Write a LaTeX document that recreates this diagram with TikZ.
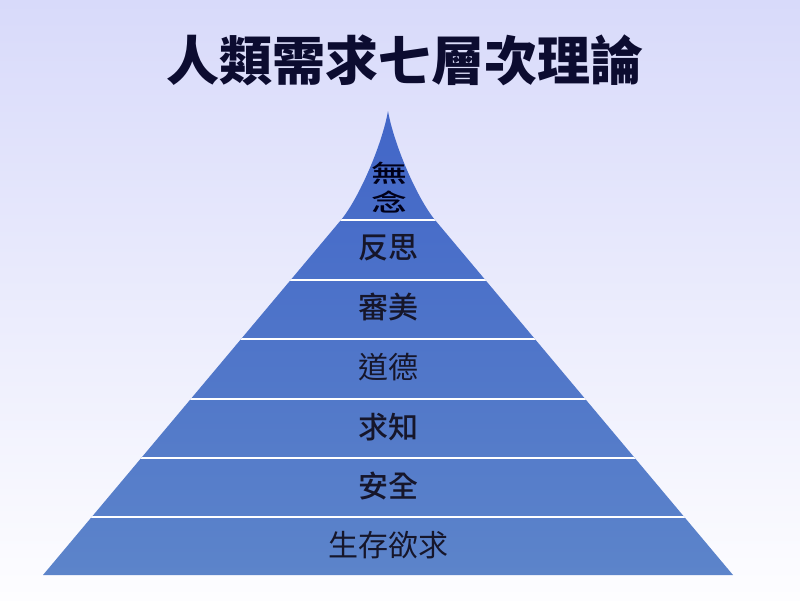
\documentclass[tikz,border=0pt]{standalone}
\usepackage{fontspec}
\usepackage{graphicx}
\newfontfamily\cjk{Noto Sans CJK TC}
\newfontfamily\cjkm{Noto Sans CJK TC Medium}
\definecolor{bgtop}{RGB}{216,218,250}
\definecolor{bgbot}{RGB}{253,253,255}
\definecolor{pyrtop}{RGB}{66,102,200}
\definecolor{pyrbot}{RGB}{92,132,202}
\definecolor{titlec}{RGB}{12,12,48}
\definecolor{labc}{RGB}{22,22,42}
\newcommand{\peakglyph}[1]{\scalebox{1.5}[1.0]{#1}}
\tikzset{
  tierlabel/.style={text=labc, font=\cjk\fontsize{30}{30}\selectfont, inner sep=0pt, anchor=center},
  tierbold/.style={tierlabel, font=\cjkm\fontsize{30}{30}\selectfont},
  peaklabel/.style={text=black!90!blue, font=\cjkm\fontsize{24}{24}\selectfont, inner sep=0pt},
  sepline/.style={white, line width=2.4pt}
}
\begin{document}
\begin{tikzpicture}[x=1pt,y=-1pt]
\useasboundingbox (0,0) rectangle (800,600);
\shade[top color=bgtop, bottom color=bgbot] (0,0) rectangle (800,600);
% pyramid
\def\pyr{(43,575) -- (341,220) .. controls (359,198) and (382,145) .. (388,111) .. controls (394,145) and (417,198) .. (435,220) -- (733,575) -- cycle}
\shade[top color=pyrtop, bottom color=pyrbot] \pyr;
\begin{scope}
\clip \pyr;
\foreach \yy in {220,280,339,399,458,517}
  \draw[sepline] (0,\yy) -- (800,\yy);
\end{scope}
% title
\node[text=titlec, font=\cjk\bfseries\fontsize{53}{53}\selectfont, inner sep=0pt] (title) at (405,60) {人類需求七層次理論};
% labels
\node[peaklabel] (wu) at (389,173) {\peakglyph{無}};
\node[peaklabel] (nian) at (389,202) {\peakglyph{念}};
\node[tierbold] (fansi) at (388,248) {反思};
\node[tierbold] (shenmei) at (388,307) {審美};
\node[tierlabel] (daode) at (388,367) {道德};
\node[tierbold] (qiuzhi) at (388,427) {求知};
\node[tierbold] (anquan) at (388,486) {安全};
\node[tierlabel] (shengcun) at (388,545) {生存欲求};
\end{tikzpicture}
\end{document}
